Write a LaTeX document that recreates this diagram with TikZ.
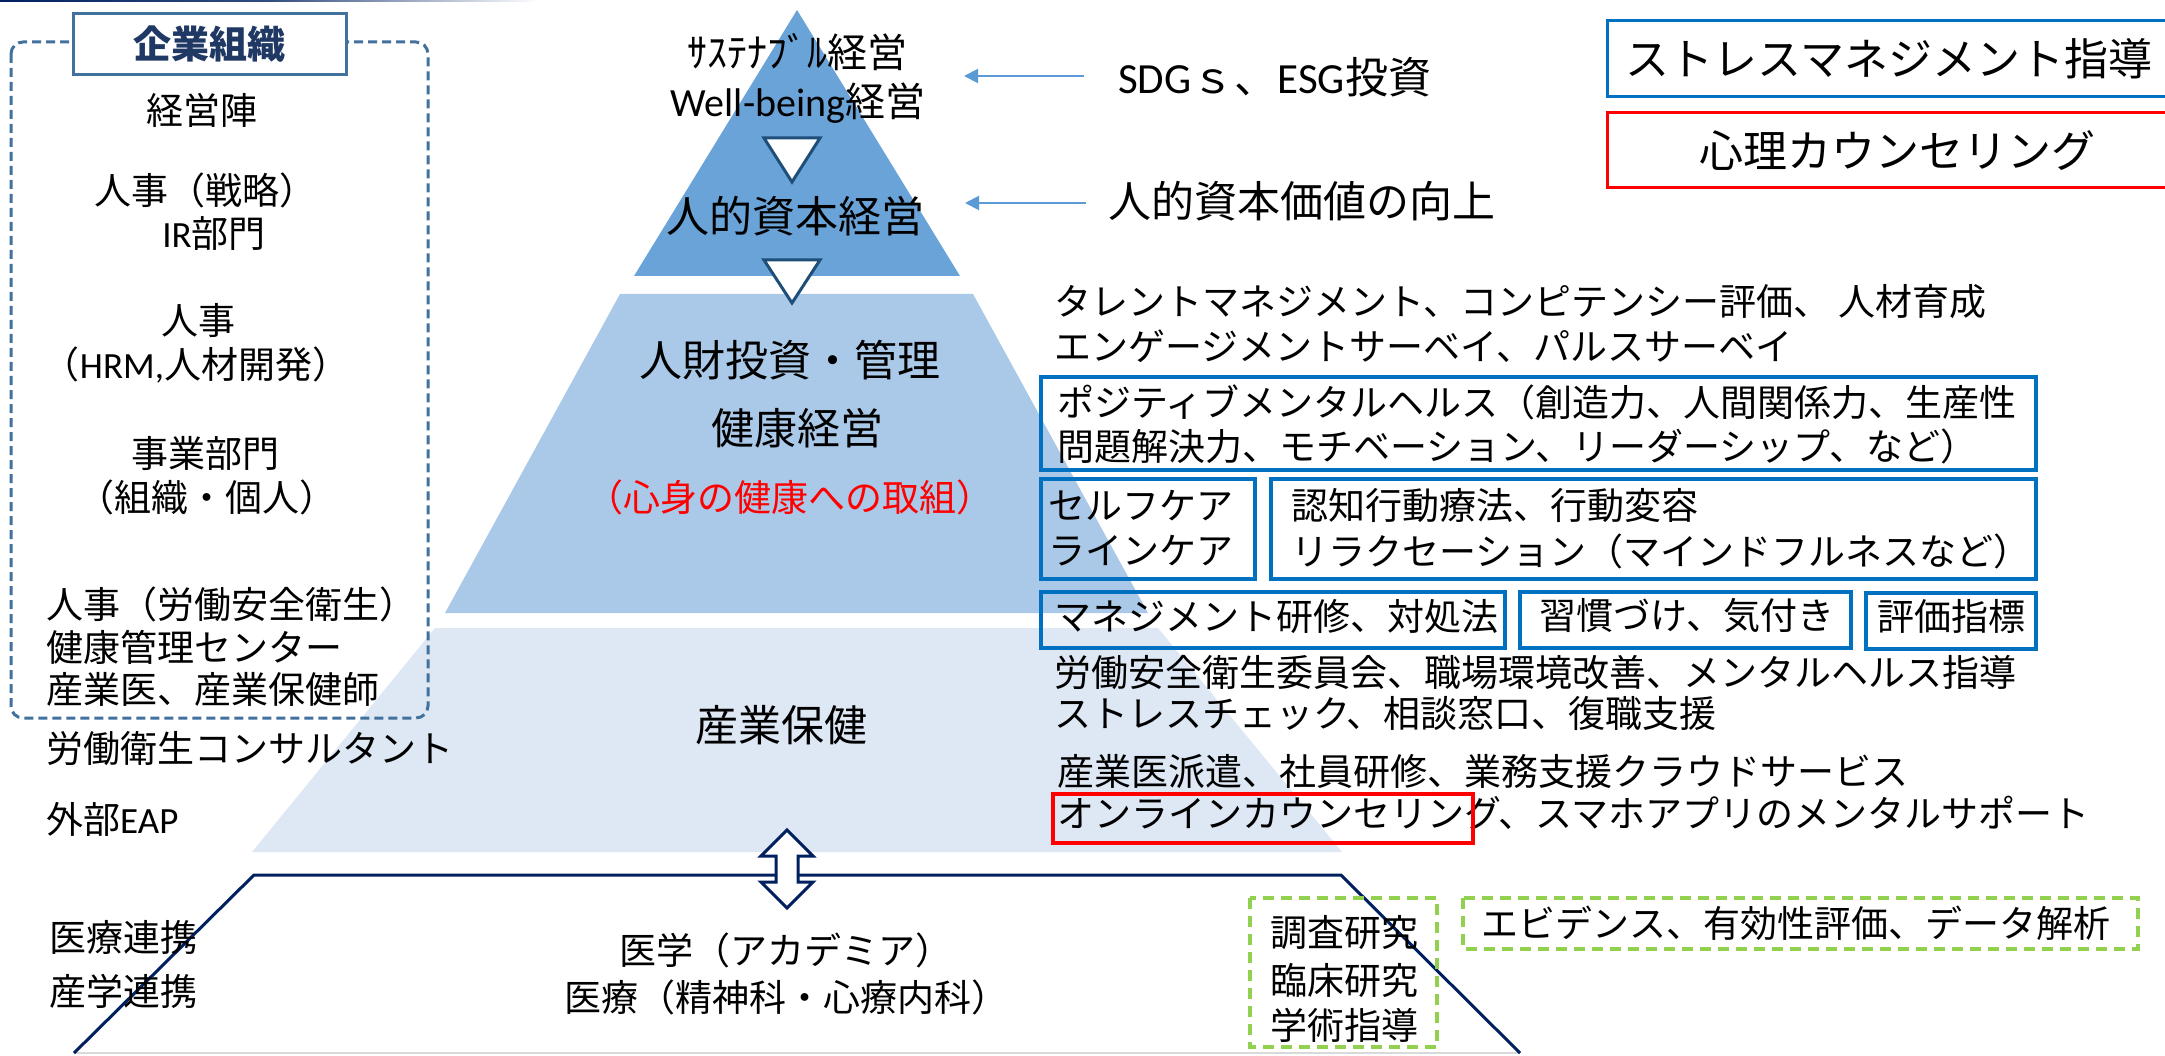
\documentclass[tikz,border=0pt]{standalone}
\usepackage{fontspec}
\setmainfont{Noto Sans CJK JP}
\newfontfamily\latf{Carlito}
\usetikzlibrary{arrows.meta}
\definecolor{pyrA}{HTML}{6AA3D8}
\definecolor{pyrB}{HTML}{AAC9E8}
\definecolor{pyrC}{HTML}{DEE8F4}
\definecolor{navy}{HTML}{002060}
\definecolor{steel}{HTML}{41719C}
\definecolor{boxblue}{HTML}{0070C0}
\definecolor{arrowblue}{HTML}{5B9BD5}
\definecolor{lgreen}{HTML}{92D050}
\definecolor{tridark}{HTML}{1F4E79}
\definecolor{titlenavy}{HTML}{1F3864}
\tikzset{
  body/.style={font=\fontsize{37pt}{44pt}\selectfont, inner sep=0pt, text=black},
  bigtxt/.style={font=\fontsize{43pt}{52pt}\selectfont, inner sep=0pt, text=black},
  midtxt/.style={font=\fontsize{40pt}{48pt}\selectfont, inner sep=0pt, text=black},
  legtxt/.style={font=\fontsize{44pt}{53pt}\selectfont, inner sep=0pt, text=black},
  bluebox/.style={draw=boxblue, line width=3.6pt},
  greenbox/.style={draw=lgreen, line width=3.4pt, dash pattern=on 11pt off 7pt},
  redbox/.style={draw=red, line width=3.6pt},
  downtri/.style={draw=tridark, line width=3pt, fill=white, line join=miter},
  thinarrow/.style={draw=arrowblue, line width=2pt, -{Triangle[length=14pt,width=14pt]}},
}
\begin{document}
\begin{tikzpicture}[x=1pt,y=-1pt]
\useasboundingbox (0,0) rectangle (2165,1056);
\fill[white] (0,0) rectangle (2165,1056);
% top bar
\shade[left color=navy, right color=white, middle color=navy!80] (0,0) rectangle (540,2);

% pyramid
\fill[pyrA] (797,10) -- (960,276) -- (634,276) -- cycle;
\fill[pyrB] (620,294) -- (973,294) -- (1148,613) -- (445,613) -- cycle;
\fill[pyrC] (435,628) -- (1158,628) -- (1342,852) -- (252,852) -- cycle;

% bottom trapezoid (academia)
\draw[draw=black!15, line width=2pt] (74,1053) -- (1520,1053);
\draw[navy, line width=3pt, line join=miter] (74,1053) -- (254,875) -- (1341,875) -- (1520,1053);

% down triangles
\draw[downtri] (764,138) -- (820,138) -- (792,182) -- cycle;
\draw[downtri] (764,260) -- (820,260) -- (792,303) -- cycle;

% double vertical arrow
\draw[navy, line width=3pt, fill=white, line join=miter]
  (787,830) -- (813,856) -- (798,856) -- (798,882) -- (813,882) -- (787,908)
  -- (761,882) -- (776,882) -- (776,856) -- (761,856) -- cycle;

% company dashed frame
\draw[steel, line width=3pt, dash pattern=on 9pt off 5pt, rounded corners=12pt]
  (11,42) rectangle (428,718);
\node[draw=steel, line width=3pt, fill=white, minimum width=273pt, minimum height=61pt, inner sep=0pt,
  font=\fontsize{38pt}{46pt}\selectfont\bfseries, text=titlenavy] (corp) at (209.5,44.5) {企業組織};

% left column
\node[body] (keiei) at (202,110) {経営陣};
\node[body] (jinji1) at (205,190) {人事（戦略）};
\node[body] (irbu) at (214,234) {{\latf IR}部門};
\node[body] (jinji2) at (198,320) {人事};
\node[body] (hrm) at (196,365) {（{\latf HRM,}人材開発）};
\node[body] (jigyo) at (205,453) {事業部門};
\node[body] (soshiki) at (207,497) {（組織・個人）};
\node[body, anchor=west] (rodo) at (46,604) {人事（労働安全衛生）};
\node[body, anchor=west] (kenko) at (46,647) {健康管理センター};
\node[body, anchor=west] (sangyoi) at (46,689) {産業医、産業保健師};
\node[body, anchor=west] (consul) at (46,749) {労働衛生コンサルタント};
\node[body, anchor=west] (eap) at (46,819) {外部{\latf EAP}};
\node[body, anchor=west] (iryorenkei) at (49,937) {医療連携};
\node[body, anchor=west] (sangaku) at (49,991) {産学連携};

% pyramid labels
\node[midtxt] (sus) at (797,52) {ｻｽﾃﾅﾌﾞﾙ経営};
\node[midtxt] (wb) at (798,103) {{\latf Well-being}経営};
\node[bigtxt] (jhk) at (795,216) {人的資本経営};
\node[bigtxt] (jzt) at (790,360) {人財投資・管理};
\node[bigtxt] (kkei) at (797,428) {健康経営};
\node[body, text=red] (shin) at (790,497) {（心身の健康への取組）};
\node[bigtxt] (sngh) at (781,725) {産業保健};
\node[body] (igaku) at (786,950) {医学（アカデミア）};
\node[body] (iryo) at (786,997) {医療（精神科・心療内科）};

% right arrow texts
\node[bigtxt, anchor=west] (sdg) at (1118,77) {{\latf SDG}ｓ、{\latf ESG}投資};
\node[bigtxt, anchor=west] (hval) at (1108,201) {人的資本価値の向上};
\coordinate (a1s) at (1084,76);
\coordinate (a1e) at (964,76);
\coordinate (a2s) at (1086,203);
\coordinate (a2e) at (965,203);
\draw[thinarrow] (a1s) -- (a1e);
\draw[thinarrow] (a2s) -- (a2e);

% legend
\draw[draw=boxblue, line width=3pt] (2170,21) -- (1607,21) -- (1607,97) -- (2170,97);
\node[legtxt] (legA) at (1889,59) {ストレスマネジメント指導};
\draw[draw=red, line width=3pt] (2170,113) -- (1607,113) -- (1607,188) -- (2170,188);
\node[legtxt] (legB) at (1897,151) {心理カウンセリング};

% right column
\node[body, anchor=west] (talent) at (1054,302) {タレントマネジメント、コンピテンシー評価、 人材育成};
\node[body, anchor=west] (engage) at (1054,346) {エンゲージメントサーベイ、パルスサーベイ};

\draw[bluebox] (1041,377) rectangle (2036,470);
\node[body, anchor=west] (posi1) at (1057,402) {ポジティブメンタルヘルス（創造力、人間関係力、生産性};
\node[body, anchor=west] (posi2) at (1057,446) {問題解決力、モチベーション、リーダーシップ、など）};

\draw[bluebox] (1041,479) rectangle (1255,579);
\node[body, anchor=west] (self) at (1048,506) {セルフケア};
\node[body, anchor=west] (line) at (1048,551) {ラインケア};

\draw[bluebox] (1271,479) rectangle (2036,579);
\node[body, anchor=west] (ninchi) at (1291,506) {認知行動療法、行動変容};
\node[body, anchor=west] (relax) at (1291,551) {リラクセーション（マインドフルネスなど）};

\draw[bluebox] (1041,592) rectangle (1505,648);
\node[body, anchor=west] (mgmt) at (1054,616) {マネジメント研修、対処法};
\draw[bluebox] (1520,592) rectangle (1851,648);
\node[body] (habit) at (1687,616) {習慣づけ、気付き};
\draw[bluebox] (1866,593) rectangle (2036,649);
\node[body] (hyoka) at (1951,616) {評価指標};

\node[body, anchor=west] (anzen) at (1054,672) {労働安全衛生委員会、職場環境改善、メンタルヘルス指導};
\node[body, anchor=west] (stress) at (1054,713) {ストレスチェック、相談窓口、復職支援};
\node[body, anchor=west] (haken) at (1057,772) {産業医派遣、社員研修、業務支援クラウドサービス};
\node[body, anchor=west] (online) at (1057,813) {オンラインカウンセリング、スマホアプリのメンタルサポート};
\draw[redbox] (1053,794) rectangle (1473,843);

% green boxes
\draw[greenbox] (1250,898) rectangle (1437,1047);
\node[body] (chosa) at (1344,933) {調査研究};
\node[body] (rinsho) at (1344,980) {臨床研究};
\node[body] (gakujutsu) at (1344,1025) {学術指導};
\draw[greenbox] (1463,898) rectangle (2138,949);
\node[body] (evid) at (1796,923) {エビデンス、有効性評価、データ解析};
\end{tikzpicture}
\end{document}
